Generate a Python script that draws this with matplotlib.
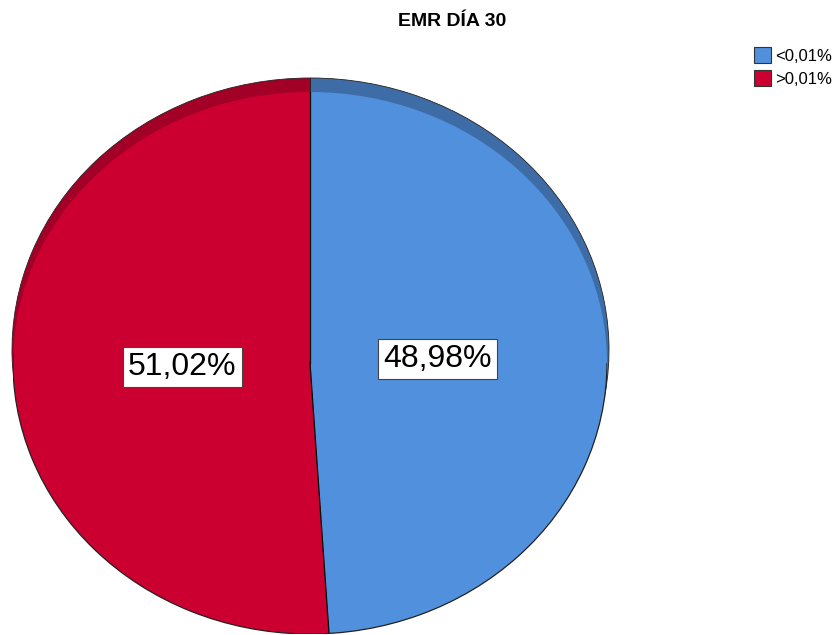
import numpy as np
import matplotlib.pyplot as plt
from matplotlib.patches import Arc

plt.rcParams['font.family'] = ['Liberation Sans', 'DejaVu Sans']

# data
labels = ['<0,01%', '>0,01%']
values = [48.98, 51.02]
colors = ['#5190dc', '#cc0030']
dark_colors = ['#3e6ca6', '#a30028']

W, H = 835, 635
fig = plt.figure(figsize=(W / 100, H / 100), dpi=100)

# ellipse box in pixels (front face)
x0, x1 = 13, 607
y_top, y_bot = 92, 634
shift = 14


def box(left, right, top, bottom):
    return [left / W, 1 - bottom / H, (right - left) / W, (bottom - top) / H]


# back layer (3D rim)
ax_back = fig.add_axes(box(x0 - 1, x1 + 2, y_top - shift, y_bot - shift + 2))
ax_back.pie(values, colors=dark_colors, startangle=90, counterclock=False,
            wedgeprops=dict(edgecolor='#222222', linewidth=0.6))
ax_back.set_aspect('auto')
ax_back.set_xlim(-1, 1)
ax_back.set_ylim(-1, 1)
ax_back.axis('off')

# front face
ax = fig.add_axes(box(x0, x1, y_top, y_bot))
wedges, texts, autotexts = ax.pie(
    values, colors=colors, startangle=90, counterclock=False,
    autopct=lambda p: f'{p:.2f}%'.replace('.', ','), pctdistance=0.43,
    wedgeprops=dict(edgecolor='none', linewidth=0))
for t in autotexts:
    t.set_fontsize(23)
    t.set_color('black')
    t.set_bbox(dict(boxstyle='square,pad=0.16', facecolor='white',
                    edgecolor='#444444', linewidth=0.8))

# radial separators
bounds = 90 - np.cumsum([0] + values) / sum(values) * 360
for a in bounds[:-1]:
    r = np.deg2rad(a)
    ax.plot([0, np.cos(r)], [0, np.sin(r)], color='black', lw=0.9, zorder=3)
# lower outline
ax.add_patch(Arc((0, 0), 2, 2, theta1=178, theta2=360, color='#222222', lw=0.9, zorder=3))

ax.set_aspect('auto')
ax.set_xlim(-1, 1)
ax.set_ylim(-1, 1)
ax.axis('off')

fig.text(452 / W, 1 - 21 / H, 'EMR DÍA 30', ha='center', va='center',
         fontsize=14, fontweight='bold')

fig.legend(wedges, labels, loc='upper left',
           bbox_to_anchor=(746 / W, 1 - 39 / H), frameon=False,
           fontsize=12, handlelength=1.0, handleheight=1.1,
           handletextpad=0.25, labelspacing=0.35, borderpad=0)
for h in fig.legends[0].legend_handles:
    h.set_edgecolor('#333333')
    h.set_linewidth(0.8)

fig.savefig('out.png', dpi=100)
